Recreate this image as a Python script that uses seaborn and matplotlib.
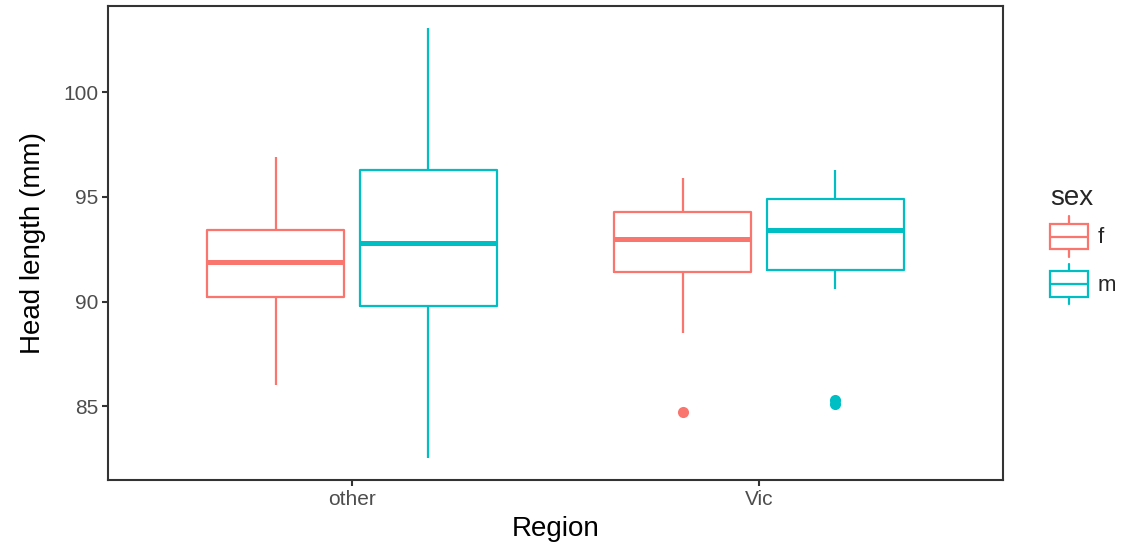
import matplotlib
matplotlib.use("Agg")
import matplotlib.pyplot as plt
from matplotlib.patches import Rectangle, Patch
from matplotlib.lines import Line2D
from matplotlib.legend_handler import HandlerBase
import numpy as np
import pandas as pd
import seaborn as sns

# box summaries: lower whisker, q1, median, q3, upper whisker
regions = ["other", "other", "Vic", "Vic"]
sexes = ["f", "m", "f", "m"]
lower = [86.0, 82.5, 88.5, 90.6]
q1 = [90.2, 89.8, 91.4, 91.5]
median = [91.9, 92.8, 93.0, 93.4]
q3 = [93.4, 96.3, 94.3, 94.9]
upper = [96.9, 103.1, 95.9, 96.3]
outliers = [[], [], [84.7], [85.1, 85.3]]

colors = {"f": "#F8766D", "m": "#00BFC4"}

# sample per group built from the read values only, repeated so the quartiles land exactly
rows = []
for i in range(len(regions)):
    vals = outliers[i] + [lower[i]] + [q1[i]] * 10 + [median[i]] * 10 + [q3[i]] * 10 + [upper[i]]
    for v in vals:
        rows.append((regions[i], sexes[i], v))
df = pd.DataFrame(rows, columns=["Region", "sex", "hdlngth"])

sns.set_style("white")
plt.rcParams['font.family'] = ['Liberation Sans', 'DejaVu Sans']

fig = plt.figure(figsize=(11.25, 5.52), dpi=100)
ax = fig.add_axes([108 / 1125, 1 - 480 / 552, (1003 - 108) / 1125, (480 - 6) / 552])

sns.boxplot(data=df, x="Region", y="hdlngth", hue="sex", palette=colors, fill=False,
            width=0.75, gap=0.1, linewidth=1.6, showcaps=False, whis=1.5,
            medianprops=dict(linewidth=3.6),
            flierprops=dict(marker="o", markersize=8),
            legend=False, ax=ax)

for ln in ax.lines:
    if ln.get_marker() == "o":
        ln.set_markerfacecolor(ln.get_markeredgecolor())
        ln.set_markeredgewidth(0)

ax.set_xlim(-0.6, 1.6)
ax.set_ylim(81.47, 104.13)
ax.set_yticks([85, 90, 95, 100])
ax.set_xlabel("Region", fontsize=20, color="black", labelpad=5)
ax.set_ylabel("Head length (mm)", fontsize=20, color="black", labelpad=12)
ax.tick_params(axis="both", labelsize=15, labelcolor="#4D4D4D", color="#333333",
               length=4, width=1.5, direction="out", left=True, bottom=True, pad=3)
for sp in ax.spines.values():
    sp.set_color("#333333")
    sp.set_linewidth(1.5)
ax.grid(False)


class BoxHandler(HandlerBase):
    def create_artists(self, legend, orig_handle, xdescent, ydescent, width, height, fontsize, trans):
        c = orig_handle.get_edgecolor()
        x0, y0 = -xdescent, -ydescent
        rect = Rectangle((x0, y0 + height * 0.2), width, height * 0.6, fill=False,
                         edgecolor=c, lw=1.6, transform=trans)
        mid = Line2D([x0, x0 + width], [y0 + height / 2] * 2, color=c, lw=1.6, transform=trans)
        wlo = Line2D([x0 + width / 2] * 2, [y0 + height * 0.03, y0 + height * 0.2],
                     color=c, lw=1.6, transform=trans)
        whi = Line2D([x0 + width / 2] * 2, [y0 + height * 0.8, y0 + height * 0.97],
                     color=c, lw=1.6, transform=trans)
        return [rect, mid, wlo, whi]


handles = [Patch(edgecolor=colors[s], facecolor="none", label=s) for s in ["f", "m"]]
leg = fig.legend(handles=handles, title="sex", loc="center left",
                 bbox_to_anchor=(1030 / 1125, 1 - 245 / 552), frameon=False,
                 fontsize=16, title_fontsize=20, handlelength=1.7, handleheight=2.6,
                 labelspacing=0.2, handletextpad=0.45, alignment="left",
                 handler_map={Patch: BoxHandler()})

fig.savefig("out.png", dpi=100)
